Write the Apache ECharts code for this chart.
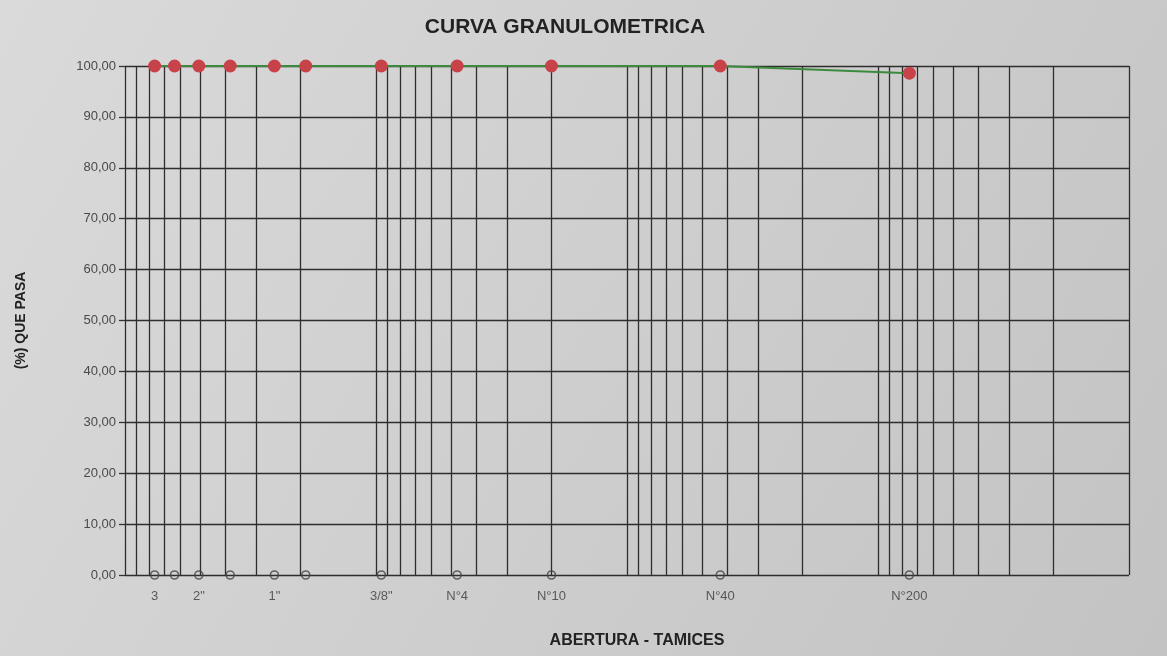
<!DOCTYPE html>
<html>
<head>
<meta charset="utf-8">
<script src="https://cdn.jsdelivr.net/npm/echarts@6/dist/echarts.min.js"></script>
<style>
html,body{margin:0;padding:0;background:#cfcfcf;}
#chart{width:1167px;height:656px;}
</style>
</head>
<body>
<div id="chart"></div>
<script>
// Sieve openings (mm) and % passing
const sieveNames = ['3"', '2 1/2"', '2"', '1 1/2"', '1"', '3/4"', '3/8"', 'N°4', 'N°10', 'N°40', 'N°200'];
const sieveSizes = [76.2, 63.5, 50.8, 38.1, 25.4, 19.05, 9.525, 4.75, 2.0, 0.425, 0.075];
const passing = [100.0, 100.0, 100.0, 100.0, 100.0, 100.0, 100.0, 100.0, 100.0, 100.0, 98.6];
const tickLabels = ['3', '', '2"', '', '1"', '', '3/8"', 'N°4', 'N°10', 'N°40', 'N°200'];
// Log grid lines (mm)
const gridValues = [100, 90, 80, 70, 60, 50, 40, 30, 20, 10, 9, 8, 7, 6, 5, 4, 3, 2, 1,
  0.9, 0.8, 0.7, 0.6, 0.5, 0.4, 0.3, 0.2, 0.1, 0.09, 0.08, 0.07, 0.06, 0.05, 0.04, 0.03, 0.02, 0.01];

const chart = echarts.init(document.getElementById('chart'));
const font = 'Liberation Sans, Arial, sans-serif';

chart.setOption({
  backgroundColor: new echarts.graphic.LinearGradient(0, 0, 1, 1, [
    {offset: 0, color: '#dadada'},
    {offset: 1, color: '#c3c3c3'}
  ]),
  animation: false,
  title: {
    text: 'CURVA GRANULOMETRICA',
    left: 560, top: 12, textAlign: 'center',
    textStyle: {fontFamily: font, fontWeight: 'bold', fontSize: 21, color: '#222'}
  },
  grid: {left: 125, right: 38, top: 66, bottom: 81},
  xAxis: {
    type: 'log', logBase: 10, min: 0.01, max: 100, inverse: true,
    name: 'ABERTURA - TAMICES', nameLocation: 'middle', nameGap: 58,
    nameTextStyle: {fontFamily: font, fontWeight: 'bold', fontSize: 16, color: '#222', padding: [0, 0, 0, 20]},
    axisLine: {show: false}, axisTick: {show: false}, axisLabel: {show: false},
    splitLine: {show: false}
  },
  yAxis: {
    type: 'value', min: 0, max: 100, interval: 10,
    name: '(%) QUE PASA', nameLocation: 'middle', nameGap: 97, nameRotate: 90,
    nameTextStyle: {fontFamily: font, fontWeight: 'bold', fontSize: 14, color: '#222'},
    axisLine: {show: false},
    axisTick: {show: true, inside: false, length: 6, lineStyle: {color: '#333', width: 1.3}},
    axisLabel: {
      fontFamily: font, fontSize: 13, color: '#4a4a4a', margin: 9,
      formatter: v => v.toFixed(2).replace('.', ',')
    },
    splitLine: {show: true, lineStyle: {color: '#2e2e2e', width: 1.3}}
  },
  series: [
    {
      type: 'line', data: [], silent: true,
      markLine: {
        silent: true, symbol: 'none', label: {show: false},
        lineStyle: {color: '#2e2e2e', width: 1.3, type: 'solid'},
        data: gridValues.map(v => ({xAxis: v}))
      }
    },
    {
      type: 'line',
      data: sieveSizes.map((s, i) => [s, passing[i]]),
      symbol: 'circle', symbolSize: 13,
      itemStyle: {color: '#c8424a'},
      lineStyle: {color: '#3b8a3e', width: 2},
      z: 5
    },
    {
      type: 'scatter',
      data: sieveSizes.map((s, i) => ({value: [s, 0], label: {formatter: tickLabels[i]}})),
      symbol: 'circle', symbolSize: 8,
      itemStyle: {color: 'rgba(0,0,0,0)', borderColor: '#444', borderWidth: 1.6},
      label: {show: true, position: 'bottom', distance: 10, fontFamily: font, fontSize: 13, color: '#3a3a3a'},
      z: 6
    }
  ]
});
</script>
</body>
</html>
